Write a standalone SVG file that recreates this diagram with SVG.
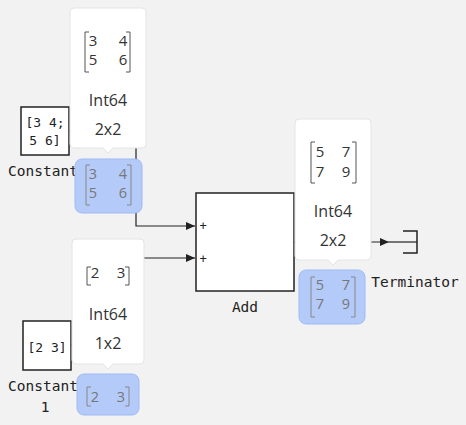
<svg xmlns="http://www.w3.org/2000/svg" width="466" height="425" viewBox="0 0 466 425">
<style>
.blk{fill:#fff;stroke:#222;stroke-width:1.5}
.lbl{font-family:"DejaVu Sans Mono","Liberation Mono",monospace;font-size:14.5px;fill:#222;text-anchor:middle}
.val{font-family:"DejaVu Sans Mono","Liberation Mono",monospace;font-size:13px;fill:#222;text-anchor:middle}
.wire{fill:none;stroke:#222;stroke-width:1.2}
.tip{fill:#fff;stroke:#e4e4e4;stroke-width:1}
.tt{font-family:"Open Sans","Noto Sans",sans-serif;font-size:16px;fill:#333;text-anchor:middle}
.mx{font-family:"Open Sans","Noto Sans",sans-serif;font-size:15px;fill:#333;text-anchor:middle}
.br{fill:none;stroke:#555;stroke-width:1}
.badge{fill:#b4caf8;stroke:#9fbaf3;stroke-width:1}
.bmx{font-family:"Open Sans","Noto Sans",sans-serif;font-size:14.5px;fill:#777;text-anchor:middle}
.bbr{fill:none;stroke:#888;stroke-width:1}
.plus{font-family:"DejaVu Sans Mono",monospace;font-size:12px;fill:#222;text-anchor:middle}
</style>
<defs>
<marker id="arr" markerWidth="10" markerHeight="8" refX="9" refY="4" orient="auto" markerUnits="userSpaceOnUse">
<path d="M0,0 L9,4 L0,8 Z" fill="#222"/>
</marker>
</defs>
<rect width="466" height="425" fill="#f2f2f2"/>

<g id="connectors">
<polyline class="wire" points="69,131 136,131 136,226 195,226" marker-end="url(#arr)"/>
<polyline class="wire" points="71,345 136,345 136,258 195,258" marker-end="url(#arr)"/>
<polyline class="wire" points="294,242 389,242" marker-end="url(#arr)"/>
<line class="wire" x1="389" y1="242" x2="417" y2="242"/>
</g>

<g id="Constant">
<rect class="blk" x="21" y="107" width="48" height="48"/>
<text class="val" x="45" y="127">[3 4;</text>
<text class="val" x="45" y="145">5 6]</text>
<text class="lbl" x="43" y="176">Constant</text>
</g>

<g id="Constant1">
<rect class="blk" x="23" y="321" width="48" height="49"/>
<text class="val" x="47" y="352">[2 3]</text>
<text class="lbl" x="43" y="391">Constant</text>
<text class="lbl" x="45" y="412">1</text>
</g>

<g id="Add">
<rect class="blk" x="196" y="193" width="98" height="98"/>
<text class="plus" x="203" y="230">+</text>
<text class="plus" x="203" y="263">+</text>
<text class="lbl" x="245" y="312">Add</text>
</g>

<g id="Terminator">
<path d="M403,231 H417 V253 H403" fill="none" stroke="#222" stroke-width="1.5"/>
<text class="lbl" x="415" y="287">Terminator</text>
</g>

<g id="tooltip1">
<path class="tip" d="M74,8 H142 Q146,8 146,12 V144 Q146,148 142,148 H113 L108,153 L103,148 H74 Q70,148 70,144 V12 Q70,8 74,8 Z"/>
<path class="br" d="M89,32 H85 V72 H89 M126,32 H130 V72 H126"/>
<text class="mx" x="93" y="46">3</text><text class="mx" x="123" y="46">4</text>
<text class="mx" x="93" y="65">5</text><text class="mx" x="123" y="65">6</text>
<text class="tt" x="108" y="106">Int64</text>
<text class="tt" x="108" y="135">2x2</text>
</g>
<g id="badge1">
<rect class="badge" x="75" y="159" width="67" height="54" rx="7"/>
<path class="bbr" d="M90,165 H86 V205 H90 M127,165 H131 V205 H127"/>
<text class="bmx" x="93" y="179">3</text><text class="bmx" x="123" y="179">4</text>
<text class="bmx" x="93" y="198">5</text><text class="bmx" x="123" y="198">6</text>
</g>

<g id="tooltip2">
<path class="tip" d="M76,239 H140 Q144,239 144,243 V360 Q144,364 140,364 H113 L108,369 L103,364 H76 Q72,364 72,360 V243 Q72,239 76,239 Z"/>
<path class="br" d="M91,267 H87 V285 H91 M125,267 H129 V285 H125"/>
<text class="mx" x="95" y="278">2</text><text class="mx" x="121" y="278">3</text>
<text class="tt" x="108" y="320">Int64</text>
<text class="tt" x="108" y="349">1x2</text>
</g>
<g id="badge2">
<rect class="badge" x="77" y="374" width="62" height="41" rx="7"/>
<path class="bbr" d="M91,387 H87 V406 H91 M125,387 H129 V406 H125"/>
<text class="bmx" x="95" y="402">2</text><text class="bmx" x="121" y="402">3</text>
</g>

<g id="tooltip3">
<path class="tip" d="M299,119 H367 Q371,119 371,123 V256 Q371,260 367,260 H338 L333,265 L328,260 H299 Q295,260 295,256 V123 Q295,119 299,119 Z"/>
<path class="br" d="M315,142 H311 V183 H315 M352,142 H356 V183 H352"/>
<text class="mx" x="320" y="157">5</text><text class="mx" x="346" y="157">7</text>
<text class="mx" x="320" y="177">7</text><text class="mx" x="346" y="177">9</text>
<text class="tt" x="333" y="217">Int64</text>
<text class="tt" x="333" y="246">2x2</text>
</g>
<g id="badge3">
<rect class="badge" x="299" y="270" width="66" height="54" rx="7"/>
<path class="bbr" d="M315,277 H311 V317 H315 M351,277 H355 V317 H351"/>
<text class="bmx" x="320" y="290">5</text><text class="bmx" x="346" y="290">7</text>
<text class="bmx" x="320" y="309">7</text><text class="bmx" x="346" y="309">9</text>
</g>
</svg>
